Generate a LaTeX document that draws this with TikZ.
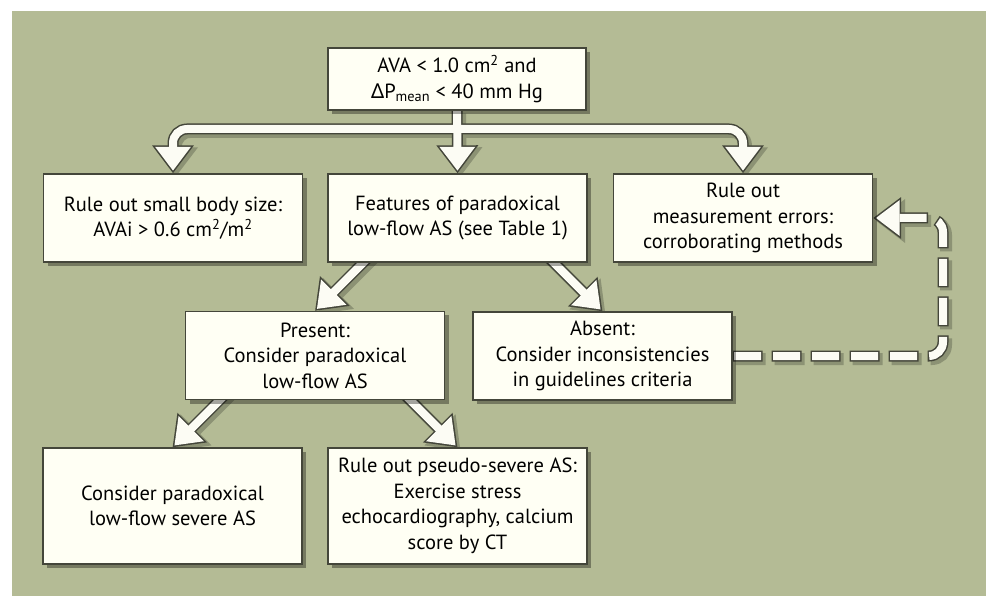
\documentclass[tikz,border=0pt]{standalone}
\usepackage{fontspec}
\setmainfont{PT Sans}
\newfontfamily\grkfont{Noto Sans}
\usetikzlibrary{arrows.meta,calc,shadows}
\definecolor{bggreen}{RGB}{180,187,149}
\definecolor{boxfill}{RGB}{255,255,244}
\definecolor{edgegray}{RGB}{68,70,58}
\definecolor{arrowwhite}{RGB}{252,252,244}
\colorlet{shadowgreen}{bggreen!78!black}
\pgfdeclarelayer{paper}
\pgfdeclarelayer{links}
\pgfsetlayers{paper,links,main}
\tikzset{
  flowbox/.style={draw=edgegray, line width=1.3pt, fill=boxfill, align=center,
    minimum width=259pt, minimum height=88pt, inner sep=3pt,
    font=\fontsize{20.5pt}{25.5pt}\selectfont,
    drop shadow={shadow xshift=4pt, shadow yshift=-4pt, opacity=.35, fill=black}},
  linkshadow/.style={line width=12pt, draw=shadowgreen, rounded corners=14pt,
    transform canvas={xshift=3pt,yshift=-3pt}, >={Triangle[length=29pt,width=42pt]}},
  linkedge/.style={line width=11pt, draw=edgegray, rounded corners=14pt,
    >={Triangle[length=28pt,width=40pt]}},
  linkfill/.style={line width=8pt, draw=arrowwhite, rounded corners=14pt,
    >={Triangle[length=23.9pt,width=34.1pt]}, shorten >=2.6pt},
  linkshadow-dash/.style={dash pattern=on 30pt off 9pt},
  linkedge-dash/.style={dash pattern=on 30pt off 9pt},
  linkfill-dash/.style={dash pattern=on 27pt off 12pt, dash phase=37.5pt},
}

\begin{document}
\begin{tikzpicture}[x=1pt,y=-1pt]
\useasboundingbox (0,0) rectangle (986,596);
\begin{pgfonlayer}{paper}
\fill[white] (0,0) rectangle (986,596);
\fill[bggreen] (12,11) rectangle (986,596);
\end{pgfonlayer}

\node[flowbox, minimum width=258pt, minimum height=62pt] (ava) at (457,79)
  {AVA < 1.0 cm\textsuperscript{2} and\\{\grkfont Δ}P\textsubscript{mean} < 40 mm Hg};
\node[flowbox] (size) at (173,218) {Rule out small body size:\\AVAi > 0.6 cm\textsuperscript{2}/m\textsuperscript{2}};
\node[flowbox] (features) at (457.5,218) {Features of paradoxical\\low-flow AS (see Table 1)};
\node[flowbox] (errors) at (743,218) {Rule out\\measurement errors:\\corroborating methods};
\node[flowbox] (present) at (315,355.5) {Present:\\Consider paradoxical\\low-flow AS};
\node[flowbox] (absent) at (602.5,356) {Absent:\\Consider inconsistencies\\in guidelines criteria};
\node[flowbox, minimum height=116pt] (severe) at (172.5,506) {Consider paradoxical\\low-flow severe AS};
\node[flowbox, minimum height=116pt] (pseudo) at (457.5,506)
  {Rule out pseudo-severe AS:\\Exercise stress\\echocardiography, calcium\\score by CT};

\coordinate (bar) at (457,129);
\coordinate (loop) at (943,218);
\coordinate (pl) at ($(present.north)+(60,-60)$);
\coordinate (al) at ($(absent.north)+(-60,-60)$);
\coordinate (sl) at ($(severe.north)+(60,-60)$);
\coordinate (ql) at ($(pseudo.north)+(-60,-60)$);

\begin{pgfonlayer}{links}
\foreach \pass in {linkshadow,linkedge,linkfill}{
  \draw[\pass,->] (ava) -- (features.north);
  \draw[\pass,->] (bar) -| (size.north);
  \draw[\pass,->] (bar) -| (errors.north);
  \draw[\pass,->] (pl) -- (present.north);
  \draw[\pass,->] (al) -- (absent.north);
  \draw[\pass,->] (sl) -- (severe.north);
  \draw[\pass,->] (ql) -- (pseudo.north);
  \draw[\pass,\pass-dash,->] (absent.east) -| (loop) -- (errors.east);
}
\end{pgfonlayer}
\end{tikzpicture}
\end{document}
